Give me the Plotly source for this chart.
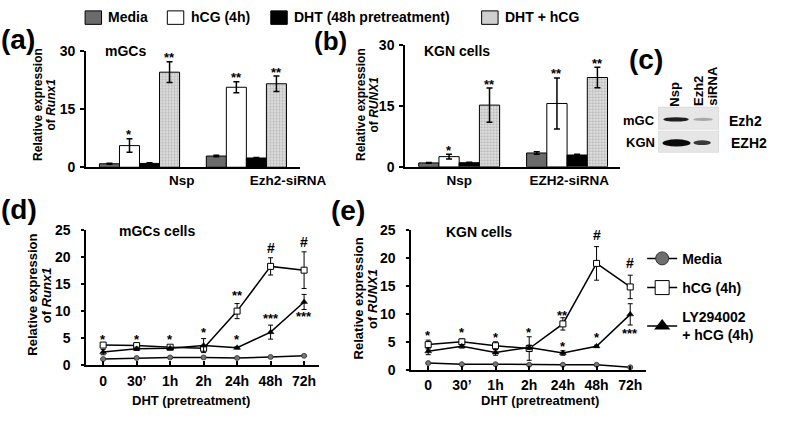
import plotly.graph_objects as go

W, H = 791, 424
def px(x): return x / W
def py(y): return 1 - y / H

FONT = "Liberation Sans, Arial, Helvetica, sans-serif"

# ---------------- data ----------------
series_names = ["Media", "hCG (4h)", "DHT (48h pretreatment)", "DHT + hCG"]

# (a) mGCs
groups_a = ["Nsp", "Ezh2-siRNA"]
a_media = [0.9, 2.9]
a_media_err = [0.15, 0.2]
a_hcg = [5.6, 20.7]
a_hcg_err = [1.75, 1.4]
a_dht = [1.0, 2.4]
a_dht_err = [0.15, 0.15]
a_combo = [24.6, 21.6]
a_combo_err = [2.7, 2.0]
a_sig = [["", ""], ["*", "**"], ["", ""], ["**", "**"]]

# (b) KGN cells
groups_b = ["Nsp", "EZH2-siRNA"]
b_media = [0.95, 3.4]
b_media_err = [0.1, 0.3]
b_hcg = [2.5, 15.6]
b_hcg_err = [0.6, 6.3]
b_dht = [1.0, 2.9]
b_dht_err = [0.1, 0.2]
b_combo = [15.2, 22.0]
b_combo_err = [4.2, 2.5]
b_sig = [["", ""], ["*", "**"], ["", ""], ["**", "**"]]

# (d) mGCs cells time course
timepoints = ["0", "30\u2019", "1h", "2h", "24h", "48h", "72h"]
d_media = [1.1, 1.3, 1.4, 1.4, 1.3, 1.5, 1.7]
d_media_err = [0.1, 0.1, 0.1, 0.1, 0.1, 0.1, 0.1]
d_hcg = [3.7, 3.6, 3.3, 3.1, 10.0, 18.3, 17.6]
d_hcg_err = [0.3, 0.3, 0.2, 0.3, 1.4, 1.6, 3.4]
d_ly = [2.4, 3.0, 3.1, 3.6, 3.2, 6.1, 11.7]
d_ly_err = [0.5, 0.3, 0.2, 1.3, 0.2, 1.3, 1.4]
d_sig_idx = [0, 1, 2, 3, 4, 4, 5, 5, 6, 6]
d_sig_y = [5.2, 5.2, 5.2, 6.5, 13.4, 5.3, 21.7, 9.2, 22.8, 9.6]
d_sig_txt = ["*", "*", "*", "*", "**", "*", "#", "***", "#", "***"]

# (e) KGN cells time course
e_media = [1.2, 1.0, 1.0, 0.9, 0.9, 0.9, 0.45]
e_media_err = [0.1, 0.1, 0.1, 0.1, 0.1, 0.1, 0.1]
e_hcg = [4.5, 5.0, 4.3, 3.8, 8.2, 19.0, 14.8]
e_hcg_err = [0.8, 0.5, 0.7, 2.1, 1.1, 3.0, 2.1]
e_ly = [3.3, 4.2, 3.1, 4.0, 3.0, 4.2, 9.9]
e_ly_err = [0.6, 0.3, 0.5, 0.4, 0.4, 0.2, 1.9]
e_sig_idx = [0, 1, 2, 3, 4, 4, 5, 5, 6, 6]
e_sig_y = [6.6, 7.2, 6.3, 7.2, 10.2, 4.7, 24.0, 6.3, 19.1, 7.0]
e_sig_txt = ["*", "*", "*", "*", "**", "*", "#", "*", "#", "***"]

line_names = ["Media", "hCG (4h)", "LY294002<br>+ hCG (4h)"]

# ---------------- figure ----------------
fig = go.Figure()

bar_styles = [
    dict(color="#6b6b6b", line=dict(color="black", width=1)),
    dict(color="white", line=dict(color="black", width=1)),
    dict(color="black", line=dict(color="black", width=1)),
    dict(color="#dcdcdc", line=dict(color="black", width=1),
         pattern=dict(shape=".", fgcolor="#8a8a8a", bgcolor="#e4e4e4", size=3, solidity=0.45)),
]

def add_bars(vals, errs, xa, ya):
    for i, (v, e) in enumerate(zip(vals, errs)):
        fig.add_trace(go.Bar(
            x=[0, 1], y=v, name=series_names[i], marker=bar_styles[i],
            error_y=dict(type="data", array=e, color="black", thickness=1.5, width=3),
            xaxis=xa, yaxis=ya, showlegend=False))

add_bars([a_media, a_hcg, a_dht, a_combo], [a_media_err, a_hcg_err, a_dht_err, a_combo_err], "x", "y")
add_bars([b_media, b_hcg, b_dht, b_combo], [b_media_err, b_hcg_err, b_dht_err, b_combo_err], "x2", "y2")

ann = []
def A(text, x, y, size=14, xanchor="center", yanchor="middle", angle=0,
      xref="paper", yref="paper", yshift=0, xshift=0):
    ann.append(dict(text=text, x=x, y=y, xref=xref, yref=yref, showarrow=False,
                    xanchor=xanchor, yanchor=yanchor, textangle=angle,
                    yshift=yshift, xshift=xshift,
                    font=dict(family=FONT, size=size, color="black", weight="bold")))

BARGAP = 0.25
offsets = [(-0.5 + (i + 0.5) / 4) * (1 - BARGAP) for i in range(4)]

def bar_sig(vals, errs, sig, xr, yr):
    for i in range(4):
        for g in range(2):
            if sig[i][g]:
                A(sig[i][g], g + offsets[i], vals[i][g] + errs[i][g], size=13,
                  xref=xr, yref=yr, yshift=4)

bar_sig([a_media, a_hcg, a_dht, a_combo], [a_media_err, a_hcg_err, a_dht_err, a_combo_err], a_sig, "x", "y")
bar_sig([b_media, b_hcg, b_dht, b_combo], [b_media_err, b_hcg_err, b_dht_err, b_combo_err], b_sig, "x2", "y2")

# line charts
line_styles = [
    dict(marker=dict(symbol="circle", size=5, color="#777777", line=dict(color="#333333", width=0.8))),
    dict(marker=dict(symbol="square", size=6, color="white", line=dict(color="black", width=1))),
    dict(marker=dict(symbol="triangle-up", size=6, color="black", line=dict(color="black", width=0.5))),
]

def add_lines(ys, errs, xa, ya):
    for i, (v, e) in enumerate(zip(ys, errs)):
        fig.add_trace(go.Scatter(
            x=list(range(len(timepoints))), y=v, mode="lines+markers",
            name=line_names[i], line=dict(color="black", width=1.5),
            marker=line_styles[i]["marker"],
            error_y=dict(type="data", array=e, color="black", thickness=1, width=2.5),
            xaxis=xa, yaxis=ya, showlegend=False))

add_lines([d_media, d_hcg, d_ly], [d_media_err, d_hcg_err, d_ly_err], "x3", "y3")
add_lines([e_media, e_hcg, e_ly], [e_media_err, e_hcg_err, e_ly_err], "x4", "y4")

# legend entries for the line charts
leg_markers = [
    dict(symbol="circle", size=13, color="#6e6e6e", line=dict(color="#333333", width=1)),
    dict(symbol="square", size=14, color="white", line=dict(color="black", width=1)),
    dict(symbol="triangle-up", size=14, color="black"),
]
for i in range(3):
    fig.add_trace(go.Scatter(x=[None], y=[None], mode="lines+markers", name=line_names[i],
                             line=dict(color="black", width=1.5), marker=leg_markers[i],
                             legendgroup="g%d" % i, showlegend=True, xaxis="x4", yaxis="y4"))

def line_sig(idx, ys, txts, xr, yr):
    for k, yv, t in zip(idx, ys, txts):
        A(t, k, yv, size=14 if t == "#" else 13, xref=xr, yref=yr,
          yshift=(-3 if "*" in t else 0))

line_sig(d_sig_idx, d_sig_y, d_sig_txt, "x3", "y3")
line_sig(e_sig_idx, e_sig_y, e_sig_txt, "x4", "y4")

# panel labels
A("(a)", px(19), py(33), size=28)
A("(b)", px(342), py(34), size=26)
A("(c)", px(668), py(53), size=28)
A("(d)", px(20), py(209), size=28)
A("(e)", px(360), py(210), size=28)

# inner titles
A("mGCs", px(107), py(45), size=14, xanchor="left")
A("KGN cells", px(436), py(45), size=14, xanchor="left")
A("mGCs cells", px(121), py(232), size=14, xanchor="left")
A("KGN cells", px(459), py(233), size=14, xanchor="left")

# y axis titles
A("Relative expression", px(40), py(100), size=12, angle=-90)
A("of <i>Runx1</i>", px(53), py(100), size=12, angle=-90)
A("Relative expression", px(373), py(100), size=12, angle=-90)
A("of <i>RUNX1</i>", px(387), py(100), size=12, angle=-90)
A("Relative expression", px(34), py(298), size=13, angle=-90)
A("of <i>Runx1</i>", px(48), py(298), size=13, angle=-90)
A("Relative expression", px(371), py(302), size=13, angle=-90)
A("of <i>RUNX1</i>", px(385), py(302), size=13, angle=-90)

# x axis titles
A("DHT (pretreatment)", px(197), py(408), size=13)
A("DHT (pretreatment)", px(558), py(408), size=13)

# top legend (bar series)
shapes = []
leg_x = [88, 173, 280, 498]
leg_fill = ["#6b6b6b", "white", "black", "#cfcfcf"]
for i in range(4):
    shapes.append(dict(type="rect", xref="paper", yref="paper",
                       x0=px(leg_x[i]), x1=px(leg_x[i] + 17), y0=py(17), y1=py(3),
                       fillcolor=leg_fill[i], line=dict(color="black", width=1)))
    A(series_names[i], px(leg_x[i] + 22), py(9.5), size=14, xanchor="left")

# (c) western blot
for (y0, y1) in [(103, 126), (128, 150)]:
    shapes.append(dict(type="rect", xref="paper", yref="paper",
                       x0=px(681), x1=px(743), y0=py(y1), y1=py(y0),
                       fillcolor="#e6e6e6", line=dict(color="#c8c8c8", width=0.5), layer="above"))
bands = [
    (686, 712, 113.5, 118, "#1e1e1e"),
    (717, 737, 114, 117.5, "#a8a8a8"),
    (685, 714, 136.5, 144, "#0a0a0a"),
    (717, 735, 137.5, 142.5, "#3a3a3a"),
]
for x0, x1, y0, y1, c in bands:
    shapes.append(dict(type="circle", xref="paper", yref="paper",
                       x0=px(x0), x1=px(x1), y0=py(y1), y1=py(y0),
                       fillcolor=c, line=dict(width=0), layer="above"))
A("mGC", px(679), py(117), size=13, xanchor="right")
A("KGN", px(679), py(140), size=13, xanchor="right")
A("Ezh2", px(752), py(117), size=14, xanchor="left")
A("EZH2", px(754), py(140), size=14, xanchor="left")
A("Nsp", px(698), py(90), size=13, angle=-90)
A("Ezh2", px(723), py(86), size=13, angle=-90)
A("siRNA", px(737), py(81), size=13, angle=-90)

tickfont = dict(family=FONT, size=14, color="black", weight="bold")

def bar_x(domain, rng, tickvals, ticktext):
    return dict(domain=domain, range=rng, tickvals=tickvals, ticktext=ticktext,
                ticks="", showline=True, linewidth=2, linecolor="black",
                showgrid=False, zeroline=False, tickfont=dict(family=FONT, size=13.5, color="black", weight="bold"),
                ticklabelstandoff=0, fixedrange=True)

def bar_y(domain, anchor):
    return dict(domain=domain, range=[0, 30], tickvals=[0, 15, 30], ticks="outside",
                ticklen=4, tickwidth=1.5, tickcolor="black", showline=True, linewidth=2,
                linecolor="black", showgrid=False, zeroline=False, tickfont=tickfont,
                anchor=anchor, ticklabelstandoff=2)

def line_x(domain, rng, anchor):
    return dict(domain=domain, range=rng, tickvals=list(range(len(timepoints))), ticktext=timepoints,
                ticks="inside", ticklen=4, tickwidth=1.5, tickcolor="black",
                showline=True, linewidth=1.5, linecolor="black", showgrid=False, zeroline=False,
                tickfont=tickfont, anchor=anchor, ticklabelstandoff=2)

def line_y(domain, anchor):
    return dict(domain=domain, range=[0, 25], dtick=5, ticks="outside", ticklen=3,
                tickwidth=1.5, tickcolor="black", showline=True, linewidth=1.5,
                linecolor="black", showgrid=False, zeroline=False, tickfont=tickfont,
                anchor=anchor, ticklabelstandoff=8)

fig.update_layout(
    width=W, height=H, margin=dict(l=0, r=0, t=0, b=0),
    paper_bgcolor="white", plot_bgcolor="white",
    barmode="group", bargap=BARGAP, bargroupgap=0,
    font=dict(family=FONT, color="black"),
    xaxis=bar_x([px(89), px(310)], [-0.5, 1.5], [0.396, 1.39], groups_a) | dict(anchor="y"),
    yaxis=bar_y([py(165.5), py(45)], "x"),
    xaxis2=bar_x([px(419), px(641)], [-0.5, 1.49], [0.0, 1.02], groups_b) | dict(anchor="y2"),
    yaxis2=bar_y([py(165), py(38.5)], "x2"),
    xaxis3=line_x([px(89), px(330)], [-0.51, 6.45], "y3"),
    yaxis3=line_y([py(371), py(231)], "x3"),
    xaxis4=line_x([px(425), px(668)], [-0.51, 6.47], "y4"),
    yaxis4=line_y([py(376), py(230.5)], "x4"),
    legend=dict(x=px(664), y=py(244), xanchor="left", yanchor="top",
                font=dict(family=FONT, size=14, color="black", weight="bold"),
                tracegroupgap=8, bgcolor="rgba(0,0,0,0)", traceorder="grouped"),
    annotations=ann, shapes=shapes,
)

fig.write_html("out.html", config={"displayModeBar": False},
               post_script="document.body.style.margin='0';document.body.style.overflow='hidden';")
